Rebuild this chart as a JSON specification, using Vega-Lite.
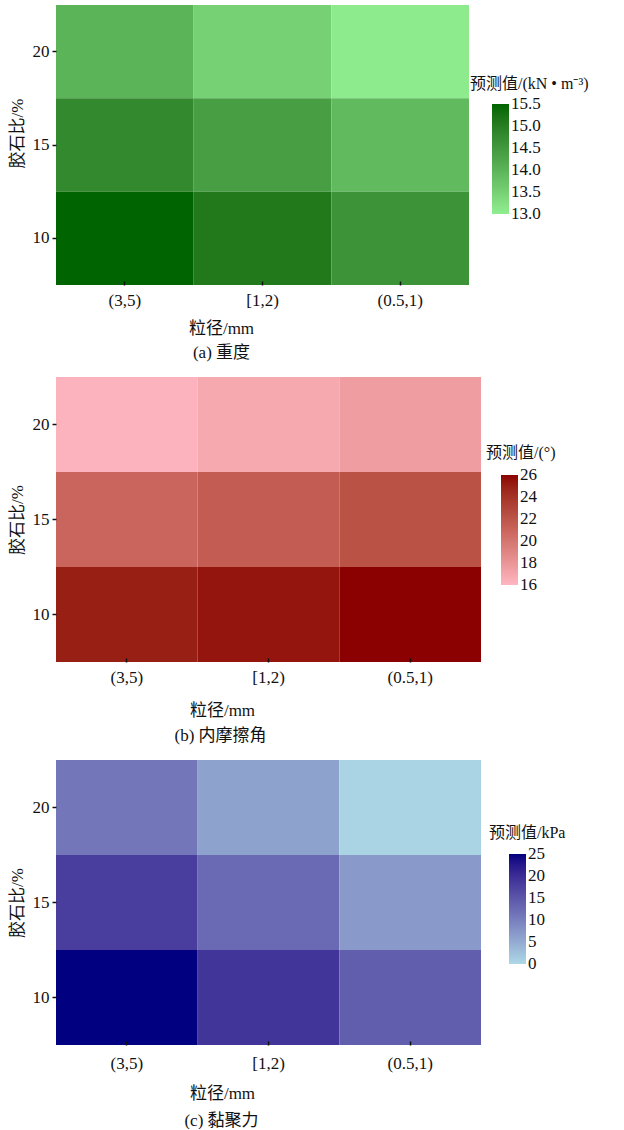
{
  "$schema": "https://vega.github.io/schema/vega-lite/v6.json",
  "background": "white",
  "padding": {"left": 8, "top": 5, "right": 0, "bottom": 0},
  "spacing": 16,
  "config": {
    "font": "Liberation Serif, Noto Sans CJK SC",
    "view": {"stroke": null},
    "axis": {
      "domain": false,
      "grid": false,
      "labelFont": "Liberation Serif",
      "labelFontSize": 17,
      "labelColor": "#111",
      "titleFont": "Liberation Serif, Noto Sans CJK SC",
      "titleFontSize": 17,
      "titleFontWeight": "normal",
      "titleColor": "#111",
      "tickColor": "#111",
      "tickWidth": 1.5
    },
    "legend": {
      "orient": "none",
      "direction": "vertical",
      "padding": 0,
      "gradientLength": 110,
      "gradientThickness": 17,
      "gradientStrokeWidth": 0,
      "labelFont": "Liberation Serif",
      "labelFontSize": 17,
      "labelColor": "#111",
      "labelOffset": 5,
      "labelOverlap": false,
      "titleFont": "Liberation Serif, Noto Sans CJK SC",
      "titleFontSize": 16,
      "titleFontWeight": "normal",
      "titleColor": "#111",
      "titlePadding": 12,
      "titleLimit": 300
    },
    "title": {
      "font": "Liberation Serif, Noto Sans CJK SC",
      "fontSize": 17,
      "fontWeight": "normal",
      "color": "#111"
    }
  },
  "data": {
    "values": [
      {"prop": "重度", "size": "(3,5)", "ratio": 20, "value": 14.0},
      {"prop": "重度", "size": "[1,2)", "ratio": 20, "value": 13.5},
      {"prop": "重度", "size": "(0.5,1)", "ratio": 20, "value": 13.05},
      {"prop": "重度", "size": "(3,5)", "ratio": 15, "value": 14.8},
      {"prop": "重度", "size": "[1,2)", "ratio": 15, "value": 14.4},
      {"prop": "重度", "size": "(0.5,1)", "ratio": 15, "value": 13.9},
      {"prop": "重度", "size": "(3,5)", "ratio": 10, "value": 15.5},
      {"prop": "重度", "size": "[1,2)", "ratio": 10, "value": 15.1},
      {"prop": "重度", "size": "(0.5,1)", "ratio": 10, "value": 14.6},
      {"prop": "内摩擦角", "size": "(3,5)", "ratio": 20, "value": 16.2},
      {"prop": "内摩擦角", "size": "[1,2)", "ratio": 20, "value": 16.8},
      {"prop": "内摩擦角", "size": "(0.5,1)", "ratio": 20, "value": 17.5},
      {"prop": "内摩擦角", "size": "(3,5)", "ratio": 15, "value": 21.0},
      {"prop": "内摩擦角", "size": "[1,2)", "ratio": 15, "value": 21.5},
      {"prop": "内摩擦角", "size": "(0.5,1)", "ratio": 15, "value": 22.2},
      {"prop": "内摩擦角", "size": "(3,5)", "ratio": 10, "value": 25.0},
      {"prop": "内摩擦角", "size": "[1,2)", "ratio": 10, "value": 25.4},
      {"prop": "内摩擦角", "size": "(0.5,1)", "ratio": 10, "value": 26.0},
      {"prop": "黏聚力", "size": "(3,5)", "ratio": 20, "value": 11.0},
      {"prop": "黏聚力", "size": "[1,2)", "ratio": 20, "value": 6.0},
      {"prop": "黏聚力", "size": "(0.5,1)", "ratio": 20, "value": 0.5},
      {"prop": "黏聚力", "size": "(3,5)", "ratio": 15, "value": 18.0},
      {"prop": "黏聚力", "size": "[1,2)", "ratio": 15, "value": 12.5},
      {"prop": "黏聚力", "size": "(0.5,1)", "ratio": 15, "value": 7.0},
      {"prop": "黏聚力", "size": "(3,5)", "ratio": 10, "value": 25.0},
      {"prop": "黏聚力", "size": "[1,2)", "ratio": 10, "value": 19.0},
      {"prop": "黏聚力", "size": "(0.5,1)", "ratio": 10, "value": 14.0}
    ]
  },
  "vconcat": [
    {
      "width": 413,
      "height": 280,
      "transform": [{"filter": "datum.prop === '重度'"}],
      "title": {"text": "(a) 重度", "orient": "bottom", "anchor": "middle", "frame": "group", "dx": -41, "offset": 9},
      "mark": {"type": "rect"},
      "encoding": {
        "x": {"field": "size", "type": "nominal", "sort": ["(3,5)", "[1,2)", "(0.5,1)"],
              "scale": {"paddingInner": 0, "paddingOuter": 0},
              "axis": {"title": "粒径/mm", "labelAngle": 0, "tickSize": -4, "labelPadding": 11, "titlePadding": 12, "titleX": 165}},
        "y": {"field": "ratio", "type": "ordinal", "sort": "descending",
              "scale": {"paddingInner": 0, "paddingOuter": 0},
              "axis": {"title": "胶石比/%", "tickSize": 4, "labelPadding": 3, "titlePadding": 6, "titleY": 128}},
        "color": {"field": "value", "type": "quantitative",
                  "scale": {"domain": [13, 15.5], "range": ["#90ee90", "#006400"], "interpolate": "lab"},
                  "legend": {"title": "预测值/(kN • m⁻³)", "values": [13, 13.5, 14, 14.5, 15, 15.5], "format": ".1f",
                             "legendX": 414, "legendY": 71,
                             "encode": {"title": {"update": {"dx": {"value": -22}}},
                                        "labels": {"update": {"baseline": {"value": "middle"}}}}}}
      }
    },
    {
      "width": 425,
      "height": 285,
      "transform": [{"filter": "datum.prop === '内摩擦角'"}],
      "title": {"text": "(b) 内摩擦角", "orient": "bottom", "anchor": "middle", "frame": "group", "dx": -48, "offset": 10},
      "mark": {"type": "rect"},
      "encoding": {
        "x": {"field": "size", "type": "nominal", "sort": ["(3,5)", "[1,2)", "(0.5,1)"],
              "scale": {"paddingInner": 0, "paddingOuter": 0},
              "axis": {"title": "粒径/mm", "labelAngle": 0, "tickSize": -4, "labelPadding": 11, "titlePadding": 17, "titleX": 166}},
        "y": {"field": "ratio", "type": "ordinal", "sort": "descending",
              "scale": {"paddingInner": 0, "paddingOuter": 0},
              "axis": {"title": "胶石比/%", "tickSize": 4, "labelPadding": 3, "titlePadding": 6}},
        "color": {"field": "value", "type": "quantitative",
                  "scale": {"domain": [16, 26], "range": ["#ffb6c1", "#8b0000"], "interpolate": "lab"},
                  "legend": {"title": "预测值/(°)", "values": [16, 18, 20, 22, 24, 26],
                             "legendX": 430, "legendY": 68, "titlePadding": 14,
                             "encode": {"title": {"update": {"dx": {"value": -15}}},
                                        "labels": {"update": {"baseline": {"value": "middle"}}}}}}
      }
    },
    {
      "width": 425,
      "height": 285,
      "transform": [{"filter": "datum.prop === '黏聚力'"}],
      "title": {"text": "(c) 黏聚力", "orient": "bottom", "anchor": "middle", "frame": "group", "dx": -47, "offset": 12},
      "mark": {"type": "rect"},
      "encoding": {
        "x": {"field": "size", "type": "nominal", "sort": ["(3,5)", "[1,2)", "(0.5,1)"],
              "scale": {"paddingInner": 0, "paddingOuter": 0},
              "axis": {"title": "粒径/mm", "labelAngle": 0, "tickSize": -4, "labelPadding": 14, "titlePadding": 14, "titleX": 166}},
        "y": {"field": "ratio", "type": "ordinal", "sort": "descending",
              "scale": {"paddingInner": 0, "paddingOuter": 0},
              "axis": {"title": "胶石比/%", "tickSize": 4, "labelPadding": 3, "titlePadding": 6}},
        "color": {"field": "value", "type": "quantitative",
                  "scale": {"domain": [0, 25], "range": ["#add8e6", "#000080"], "interpolate": "lab"},
                  "legend": {"title": "预测值/kPa", "values": [0, 5, 10, 15, 20, 25],
                             "legendX": 433, "legendY": 65, "titlePadding": 13,
                             "encode": {"title": {"update": {"dx": {"value": -20}}},
                                        "labels": {"update": {"baseline": {"value": "middle"}}}}}}
      }
    }
  ],
  "resolve": {"scale": {"color": "independent"}, "legend": {"color": "independent"}}
}
